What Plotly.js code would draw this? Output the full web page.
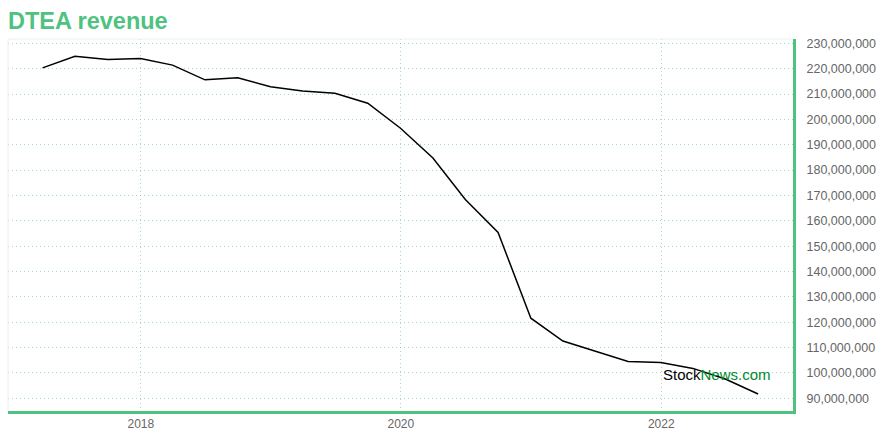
<!DOCTYPE html>
<html>
<head>
<meta charset="utf-8">
<script src="https://cdn.plot.ly/plotly-3.0.1.min.js"></script>
<style>html,body{margin:0;padding:0;background:#fff}#chart{width:880px;height:440px}</style>
</head>
<body>
<div id="chart"></div>
<script>
const dates = ["2017-03-31","2017-06-30","2017-09-30","2017-12-31","2018-03-31","2018-06-30","2018-09-30","2018-12-31","2019-03-31","2019-06-30","2019-09-30","2019-12-31","2020-03-31","2020-06-30","2020-09-30","2020-12-31","2021-03-31","2021-06-30","2021-09-30","2021-12-31","2022-03-31","2022-06-30","2022-09-30"];
const revenue = [220300000,224900000,223600000,224000000,221400000,215600000,216400000,212900000,211200000,210300000,206400000,196500000,184800000,168400000,155400000,121600000,112600000,108600000,104500000,104100000,101800000,97600000,91700000];
const yTicks = [90000000,100000000,110000000,120000000,130000000,140000000,150000000,160000000,170000000,180000000,190000000,200000000,210000000,220000000,230000000];
const yTickText = yTicks.map(v => v.toLocaleString('en-US'));
const xTicks = ["2018-01-01","2020-01-01","2022-01-01"];
const xTickText = ["2018","2020","2022"];

const green = "#4fc282";
const grid = "rgba(79,194,130,0.55)";

Plotly.newPlot("chart", [{
  x: dates, y: revenue, type: "scatter", mode: "lines",
  line: {color: "#000", width: 1.5}, hoverinfo: "x+y"
}], {
  width: 880, height: 440,
  margin: {l: 8, r: 87, t: 39, b: 29},
  paper_bgcolor: "#fff", plot_bgcolor: "#fff",
  showlegend: false,
  font: {family: "Liberation Sans, Arial, sans-serif", color: "#666"},
  title: {text: "<b>DTEA revenue</b>", x: 0.009, xanchor: "left", y: 0.971, yanchor: "top",
          font: {size: 23.5, color: green, family: "Liberation Sans, Arial, sans-serif"}},
  xaxis: {
    type: "date", range: ["2016-12-24", "2023-01-06"],
    tickvals: xTicks, ticktext: xTickText, tickfont: {size: 12, color: "#666"},
    showgrid: true, gridcolor: grid, griddash: "1px,3px", gridwidth: 1,
    showline: true, linecolor: green, linewidth: 3, zeroline: false, ticks: ""
  },
  yaxis: {
    side: "right", range: [85000000, 231700000],
    tickvals: yTicks, ticktext: yTickText, tickfont: {size: 12.5, color: "#666"},
    showgrid: true, gridcolor: grid, griddash: "1px,3px", gridwidth: 1,
    showline: true, linecolor: green, linewidth: 3, zeroline: false, ticks: "", ticklabelstandoff: 8
  },
  shapes: [
    {type: "line", xref: "paper", yref: "paper", x0: 0, x1: 1, y0: 1, y1: 1, line: {color: "#eee", width: 1}},
    {type: "line", xref: "paper", yref: "paper", x0: 0, x1: 0, y0: 0, y1: 1, line: {color: "#eee", width: 1}}
  ],
  annotations: [{
    xref: "paper", yref: "paper", x: 0.832, y: 0.098, xanchor: "left", yanchor: "middle",
    text: "<span style='color:#000'>Stock</span><span style='color:#008a2e'>News.com</span>",
    showarrow: false, font: {size: 15, family: "Liberation Sans, Arial, sans-serif"}
  }]
}, {displayModeBar: false, staticPlot: true});
</script>
</body>
</html>
